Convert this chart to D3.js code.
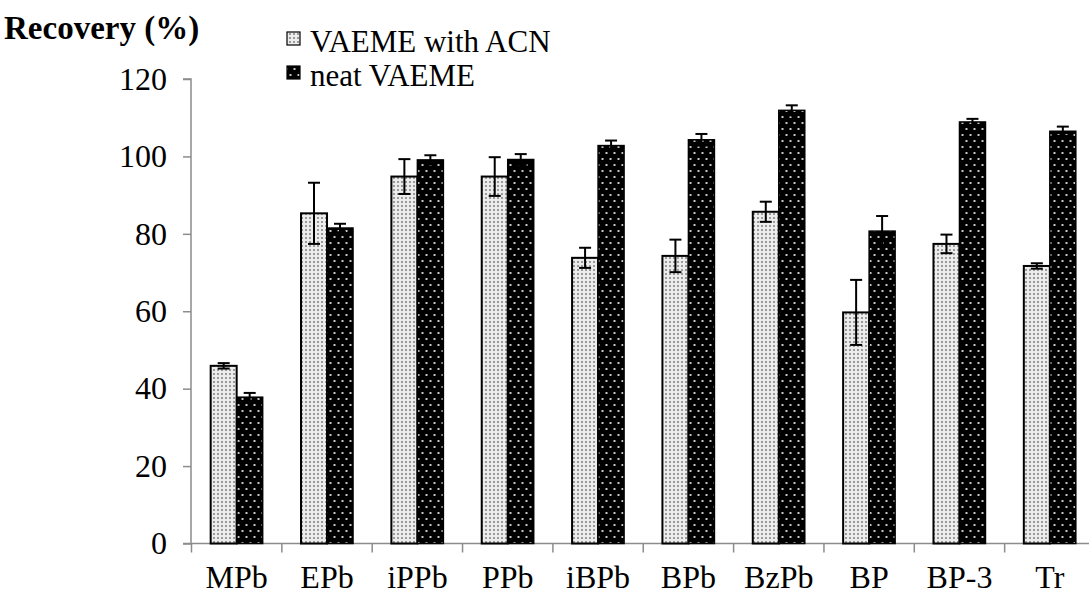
<!DOCTYPE html>
<html>
<head>
<meta charset="utf-8">
<script src="https://cdn.jsdelivr.net/npm/d3@7"></script>
<style>
  html, body { margin: 0; padding: 0; background: #fff; }
  svg { display: block; }
</style>
</head>
<body>
<svg id="chart" width="1089" height="599"></svg>
<script>
const categories = ["MPb", "EPb", "iPPb", "PPb", "iBPb", "BPb", "BzPb", "BP", "BP-3", "Tr"];
const seriesNames = ["VAEME with ACN", "neat VAEME"];
const acnValues = [45.9, 85.3, 94.8, 94.8, 73.8, 74.3, 85.7, 59.7, 77.4, 71.7];
const acnErrors = [0.7, 7.9, 4.5, 5.0, 2.6, 4.2, 2.6, 8.4, 2.4, 0.7];
const neatValues = [37.8, 81.5, 99.1, 99.2, 102.8, 104.3, 111.9, 80.7, 108.9, 106.5];
const neatErrors = [1.1, 1.1, 1.2, 1.4, 1.3, 1.5, 1.3, 3.9, 0.8, 1.2];
const yTicks = [0, 20, 40, 60, 80, 100, 120];
const yLabel = "Recovery (%)";

const svg = d3.select("#chart");
const font = "Liberation Serif, Times New Roman, serif";
const axisColor = "#8c8c8c";

// patterns
const defs = svg.append("defs");
const pLight = defs.append("pattern").attr("id", "pLight")
  .attr("patternUnits", "userSpaceOnUse").attr("width", 4).attr("height", 4);
pLight.append("rect").attr("width", 4).attr("height", 4).attr("fill", "#ececec");
pLight.append("rect").attr("x", 1).attr("y", 1).attr("width", 2).attr("height", 2).attr("fill", "#9a9a9a");

const pDark = defs.append("pattern").attr("id", "pDark")
  .attr("patternUnits", "userSpaceOnUse").attr("width", 8).attr("height", 12);
pDark.append("rect").attr("width", 8).attr("height", 12).attr("fill", "#000");
pDark.append("rect").attr("x", 1.5).attr("y", 2).attr("width", 2).attr("height", 2).attr("fill", "#c8c8c8");
pDark.append("rect").attr("x", 5.5).attr("y", 8).attr("width", 2).attr("height", 2).attr("fill", "#c8c8c8");

const x = d3.scaleBand().domain(categories).range([191.5, 1095]).paddingInner(0).paddingOuter(0);
const y = d3.scaleLinear().domain([0, 120]).range([543.5, 79]);
const barW = 26;

// Y axis
const yAxis = d3.axisLeft(y).tickValues(yTicks).tickSize(8).tickPadding(16).tickFormat(d3.format("d"));
const gy = svg.append("g").attr("transform", "translate(191,0)").call(yAxis);
gy.select(".domain").attr("stroke", axisColor).attr("stroke-width", 1.5).attr("d", `M-8,${y(120)}H0V${y(0)}`);
gy.selectAll(".tick line").attr("stroke", axisColor).attr("stroke-width", 1.5);
gy.selectAll(".tick text").attr("font-family", font).attr("font-size", 32).attr("fill", "#000");

// X axis
const xAxis = d3.axisBottom(x).tickSize(0).tickPadding(22);
const gx = svg.append("g").attr("transform", `translate(0,${y(0)})`).call(xAxis);
gx.select(".domain").attr("stroke", axisColor).attr("stroke-width", 1.5).attr("d", `M183,0H1095`);
gx.selectAll(".tick text").attr("font-family", font).attr("font-size", 32).attr("fill", "#000").attr("dy", "0.71em");
// band boundary ticks
const bounds = categories.map(c => x(c)).concat([x(categories[categories.length - 1]) + x.bandwidth()]);
gx.selectAll(".btick").data(bounds).enter().append("line").attr("class", "btick")
  .attr("x1", d => d).attr("x2", d => d).attr("y1", 0).attr("y2", 9)
  .attr("stroke", axisColor).attr("stroke-width", 1.5);

const data = categories.map((c, i) => ({ c, a: acnValues[i], ae: acnErrors[i], n: neatValues[i], ne: neatErrors[i] }));

const bars = svg.append("g");
// light bars
bars.selectAll(".bA").data(data).enter().append("rect")
  .attr("x", d => x(d.c) + x.bandwidth() / 2 - barW)
  .attr("y", d => y(d.a)).attr("width", barW).attr("height", d => y(0) - y(d.a))
  .attr("fill", "url(#pLight)").attr("stroke", "#000").attr("stroke-width", 2);
// dark bars
bars.selectAll(".bN").data(data).enter().append("rect")
  .attr("x", d => x(d.c) + x.bandwidth() / 2)
  .attr("y", d => y(d.n)).attr("width", barW).attr("height", d => y(0) - y(d.n))
  .attr("fill", "url(#pDark)").attr("stroke", "#000").attr("stroke-width", 1.5);

// error bars
function errBars(valKey, errKey, offset) {
  const g = svg.append("g").attr("stroke", "#000").attr("stroke-width", 2);
  data.forEach(d => {
    const cx = x(d.c) + x.bandwidth() / 2 + offset;
    const top = y(d[valKey] + d[errKey]), bot = y(d[valKey] - d[errKey]);
    g.append("line").attr("x1", cx).attr("x2", cx).attr("y1", top).attr("y2", bot);
    g.append("line").attr("x1", cx - 6).attr("x2", cx + 6).attr("y1", top).attr("y2", top);
    g.append("line").attr("x1", cx - 6).attr("x2", cx + 6).attr("y1", bot).attr("y2", bot);
  });
}
errBars("a", "ae", -barW / 2);
errBars("n", "ne", barW / 2);

// Y label
svg.append("text").attr("x", 4).attr("y", 39).attr("font-family", font)
  .attr("font-weight", "bold").attr("font-size", 33).text(yLabel);

// Legend
const legend = svg.append("g");
const fills = ["url(#pLight)", "url(#pDark)"];
seriesNames.forEach((s, i) => {
  const ly = 32 + i * 34;
  legend.append("rect").attr("x", 287).attr("y", ly).attr("width", 13).attr("height", 13)
    .attr("fill", fills[i]).attr("stroke", "#000").attr("stroke-width", 1.2);
  legend.append("text").attr("x", 310).attr("y", ly + 20).attr("font-family", font)
    .attr("font-size", 31).text(s);
});
</script>
</body>
</html>
